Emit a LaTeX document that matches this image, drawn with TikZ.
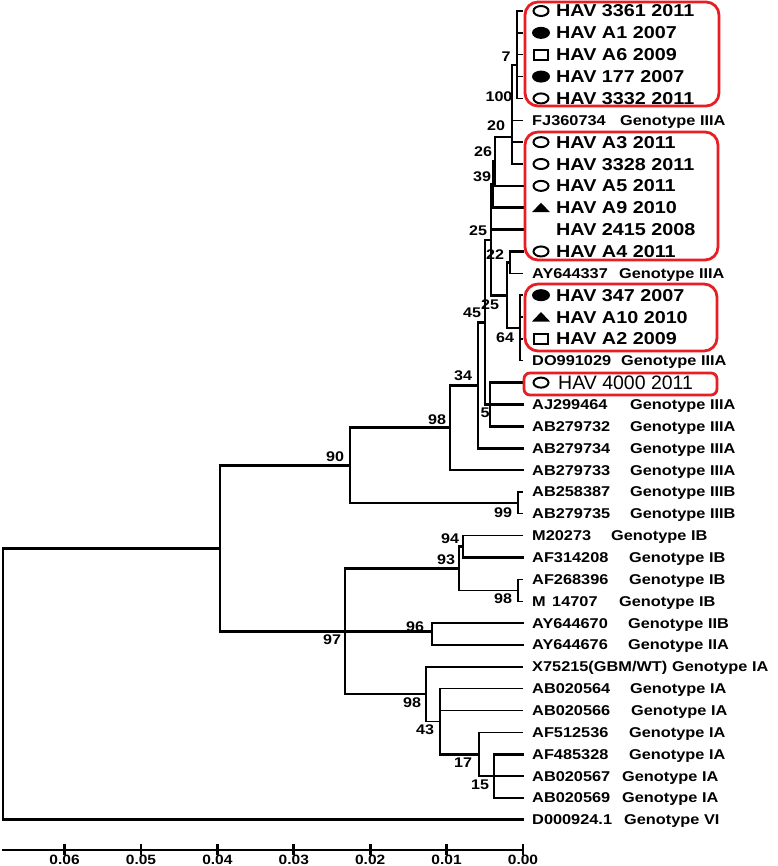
\documentclass[tikz,border=0pt]{standalone}
\usepackage{fontspec}
\setmainfont{Liberation Sans}
\newfontfamily\treefont{Liberation Sans}[FakeStretch=1.15]
\usetikzlibrary{shapes.geometric}
\definecolor{boxred}{RGB}{232,30,36}
\tikzset{
  br/.style={line width=2.7pt, line cap=rect},
  lightbr/.style={line width=1.4pt},
  lab/.style={anchor=base west, inner sep=0pt, xshift=9pt, yshift=-5pt,
    font=\treefont\bfseries\fontsize{14.2}{15}\selectfont},
  hav/.style={anchor=base west, inner sep=0pt, xshift=33pt, yshift=-6pt,
    font=\treefont\bfseries\fontsize{17.2}{18}\selectfont},
  boot/.style={inner sep=0pt, font=\treefont\bfseries\fontsize{14}{15}\selectfont},
  redbox/.style={draw=boxred, line width=2.8pt, rounded corners=13pt},
  oell/.style={draw, ellipse, line width=2pt, minimum width=15pt, minimum height=10pt, inner sep=0pt, xshift=18pt},
  fell/.style={fill, ellipse, minimum width=18pt, minimum height=12pt, inner sep=0pt, xshift=18pt},
  orect/.style={draw, rectangle, line width=1.8pt, minimum width=14pt, minimum height=10pt, inner sep=0pt, xshift=18pt},
  tri/.pic={\fill (9,4.5) -- (27,4.5) -- (18,-5) -- cycle;}
}

\begin{document}
\begin{tikzpicture}[x=1pt,y=-1pt]
\useasboundingbox (0,0) rectangle (777,866);

% leaf tips
\foreach \i in {1,...,38}
  \coordinate (l\i) at (523,{11+(\i-1)*21.86});

% inner nodes: (x of the node, y of the branch into it)
\coordinate (root) at (3,548.2);
\coordinate (nall) at (220,548.2);
\coordinate (b90) at (350,465.2);
\coordinate (b99) at (518,502.9);
\coordinate (b98a) at (450,427.6);
\coordinate (b34) at (478,385.2);
\coordinate (b45) at (485,322.2);
\coordinate (b25a) at (491,239.9);
\coordinate (b39) at (493,184.6);
\coordinate (b26) at (495,161.4);
\coordinate (b20) at (512,137);
\coordinate (b100) at (512,110);
\coordinate (b7) at (517,65);
\coordinate (b25b) at (507,295.2);
\coordinate (b22) at (510,262.4);
\coordinate (b64) at (520,328);
\coordinate (b5) at (490,404.5);
\coordinate (b97) at (345,631.3);
\coordinate (b93) at (459,568.4);
\coordinate (b94) at (463,546.6);
\coordinate (b98b) at (518,590.3);
\coordinate (b96) at (432,631.3);
\coordinate (b98c) at (426,694.1);
\coordinate (b43) at (440,721.5);
\coordinate (b17) at (479,754.2);
\coordinate (b15) at (494,776.1);

% branches
\draw[br] (root) |- (nall);
\draw[br] (root) |- (l38);
\draw[br] (nall) |- (b90);
\draw[br] (nall) |- (b97);
\draw[br] (b90) |- (b98a);
\draw[br] (b90) |- (b99);
\draw[lightbr] (b99) |- (l23);
\draw[lightbr] (b99) |- (l24);
\draw[br] (b98a) |- (b34);
\draw[br] (b98a) |- (l22);
\draw[br] (b34) |- (b45);
\draw[br] (b34) |- (l21);
\draw[br] (b45) |- (b25a);
\draw[br] (b45) |- (b5);
\draw[br] (b5) |- (l18);
\draw[br] (b5) |- (l19);
\draw[br] (b5) |- (l20);
\draw[br] (b25a) |- (b39);
\draw[br] (b25a) |- (l11);
\draw[br] (b25a) |- (b25b);
\draw[br] (b39) |- (b26);
\draw[br] (b39) |- (l10);
\draw[br] (b26) |- (b20);
\draw[br] (b26) |- (l9);
\draw[lightbr] (b20) |- (b100);
\draw[lightbr] (b20) |- (l7);
\draw[lightbr] (b20) |- (l8);
\draw[lightbr] (b100) |- (b7);
\draw[lightbr] (b100) |- (l6);
\foreach \i in {1,...,5}
  \draw[lightbr] (b7) |- (l\i);
\draw[br] (b25b) |- (b22);
\draw[br] (b25b) |- (b64);
\draw[br] (b22) |- (l12);
\draw[lightbr] (b22) |- (l13);
\foreach \i in {14,...,17}
  \draw[lightbr] (b64) |- (l\i);
\draw[br] (b97) |- (b93);
\draw[br] (b97) -- (b96);
\draw[br] (b97) |- (b98c);
\draw[br] (b93) |- (b94);
\draw[lightbr] (b93) |- (b98b);
\draw[lightbr] (b94) |- (l25);
\draw[br] (b94) |- (l26);
\draw[lightbr] (b98b) |- (l27);
\draw[lightbr] (b98b) |- (l28);
\draw[br] (b96) |- (l29);
\draw[br] (b96) |- (l30);
\draw[lightbr] (b98c) |- (l31);
\draw[lightbr] (b98c) |- (b43);
\draw[lightbr] (b43) |- (l32);
\draw[lightbr] (b43) |- (l33);
\draw[br] (b43) |- (b17);
\draw[lightbr] (b17) |- (l34);
\draw[br] (b17) |- (b15);
\foreach \i in {35,36,37}
  \draw[br] (b15) |- (l\i);

% reference sequences
\foreach \i/\acc/\gap/\gen in {6/FJ360734/88/IIIA, 13/AY644337/87/IIIA, 17/DO991029/89/IIIA,
    19/AJ299464/98/IIIA, 20/AB279732/98/IIIA, 21/AB279734/98/IIIA, 22/AB279733/98/IIIA,
    23/AB258387/98/IIIB, 24/AB279735/98/IIIB, 25/M20273/79/IB, 26/AF314208/97/IB,
    27/AF268396/97/IB, 28/{\makebox[20pt][l]{M}14707}/87/IB, 29/AY644670/96/IIB,
    30/AY644676/96/IIA, 31/{X75215(GBM/WT)}/140/IA, 32/AB020564/98/IA, 33/AB020566/99/IA,
    34/AF512536/97/IA, 35/AF485328/97/IA, 36/AB020567/90/IA, 37/AB020569/90/IA,
    38/D000924.1/92/VI}
  \node[lab] (t\i) at (l\i) {\makebox[\gap pt][l]{\acc}Genotype \gen};

% isolates
\foreach \i/\txt in {1/HAV 3361 2011, 2/HAV A1 2007, 3/HAV A6 2009, 4/HAV 177 2007,
    5/HAV 3332 2011, 7/HAV A3 2011, 8/HAV 3328 2011, 9/HAV A5 2011, 10/HAV A9 2010,
    11/HAV 2415 2008, 12/HAV A4 2011, 14/HAV 347 2007, 15/HAV A10 2010, 16/HAV A2 2009}
  \node[hav] (t\i) at (l\i) {\txt};
\node[hav, xshift=2pt, yshift=-1pt, font=\fontsize{19.5}{20}\selectfont] (t18) at (l18) {HAV 4000 2011};

% symbols
\node[oell] (m1) at (l1) {};
\node[fell] (m2) at (l2) {};
\node[orect] (m3) at (l3) {};
\node[fell] (m4) at (l4) {};
\node[oell] (m5) at (l5) {};
\node[oell] (m7) at (l7) {};
\node[oell] (m8) at (l8) {};
\node[oell] (m9) at (l9) {};
\pic at (l10) {tri};
\node[oell] (m12) at (l12) {};
\node[fell] (m14) at (l14) {};
\pic at (l15) {tri};
\node[orect] (m16) at (l16) {};
\node[oell] (m18) at (l18) {};

% boxes
\draw[redbox] (525,2) rectangle (719,106);
\draw[redbox] (525,132) rectangle (718,260);
\draw[redbox] (525,284) rectangle (717,351);
\draw[redbox, rounded corners=6pt] (524,373) rectangle (717,395);

% bootstrap values
\node[boot] (s7) at (506,57) {7};
\node[boot] (s100) at (499,97) {100};
\node[boot] (s20) at (496,126) {20};
\node[boot] (s26) at (483,152) {26};
\node[boot] (s39) at (482,177) {39};
\node[boot] (s25a) at (478,231) {25};
\node[boot] (s22) at (495,255) {22};
\node[boot] (s25b) at (490,305) {25};
\node[boot] (s45) at (472,313) {45};
\node[boot] (s64) at (505,338) {64};
\node[boot] (s34) at (463,376) {34};
\node[boot] (s5) at (485,413) {5};
\node[boot] (s98a) at (437,420) {98};
\node[boot] (s90) at (335,457) {90};
\node[boot] (s99) at (503,513) {99};
\node[boot] (s94) at (450,539) {94};
\node[boot] (s93) at (446,560) {93};
\node[boot] (s98b) at (503,599) {98};
\node[boot] (s96) at (415,627) {96};
\node[boot] (s97) at (332,640) {97};
\node[boot] (s98c) at (412,703) {98};
\node[boot] (s43) at (425,730) {43};
\node[boot] (s17) at (463,763) {17};
\node[boot] (s15) at (480,785) {15};

% scale
\coordinate (axl) at (3,850);
\coordinate (axr) at (523,850);
\draw[br] (axl) -- (axr);
\foreach \k in {0,...,6}{
  \draw[br] ({523-\k*76.4},845) -- ++(0,9);
  \node[boot, anchor=base, font=\treefont\bfseries\fontsize{13.5}{14}\selectfont] (a\k) at ({523-\k*76.4},864) {0.0\k};
}
\end{tikzpicture}
\end{document}
